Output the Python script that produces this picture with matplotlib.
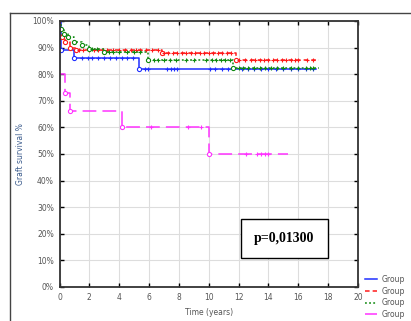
import numpy as np
import matplotlib.pyplot as plt
from matplotlib.lines import Line2D
from matplotlib.patches import Rectangle

# Kaplan-Meier steps: event times and survival (%) after each event
blue_t = [0, 0.1, 1.0, 5.3]
blue_s = [100, 89, 86, 82]
blue_end = 17.2
blue_cens = [1.5, 1.9, 2.2, 2.6, 3.0, 3.4, 3.8, 4.2, 4.5, 4.9, 5.7, 5.9, 7.2, 7.5, 7.7, 7.9,
             10.1, 10.4, 10.9, 11.3, 12.2, 12.6, 13.0, 13.5, 14.0, 14.5, 15.0, 15.5, 16.0, 16.5, 17.0]

red_t = [0, 0.05, 0.2, 0.4, 0.7, 1.1, 6.9, 11.8]
red_s = [100, 97, 94, 92, 90, 89, 87.8, 85.2]
red_end = 17.4
red_cens = [1.3, 1.6, 2.0, 2.3, 2.6, 2.9, 3.2, 3.6, 4.0, 4.4, 4.8, 5.1, 5.4, 5.8, 6.2, 6.6,
            7.0, 7.3, 7.6, 7.9, 8.2, 8.5, 8.8, 9.1, 9.4, 9.7, 10.0, 10.3, 10.6, 10.9, 11.2, 11.5,
            12.0, 12.4, 12.8, 13.1, 13.4, 13.7, 14.0, 14.3, 14.6, 14.9, 15.2, 15.5, 15.8, 16.0,
            16.6, 17.0]

green_t = [0, 0.1, 0.3, 0.6, 1.0, 1.5, 2.0, 3.0, 5.9, 11.6]
green_s = [100, 97, 95, 94, 92, 91, 89.5, 88.3, 85.5, 82.2]
green_end = 17.4
green_cens = [2.2, 2.5, 3.3, 3.6, 4.0, 4.5, 5.0, 5.4, 6.3, 6.6, 7.0, 7.4, 7.8, 8.5, 9.0,
              9.8, 10.2, 10.5, 10.8, 11.1, 11.4, 12.0, 12.3, 12.6, 13.0, 13.4, 13.8, 14.2,
              14.6, 15.0, 15.5, 16.0, 16.5, 16.8, 17.0]

mag_t = [0, 0.4, 0.7, 4.2, 10.0]
mag_s = [80, 73, 66, 60, 50]
mag_end = 15.3
mag_cens = [6.1, 8.6, 9.5, 12.5, 13.2, 13.5, 13.8, 14.0]

groups = [
    (blue_t, blue_s, blue_end, blue_cens, "#1f2fff", "-", "Group"),
    (red_t, red_s, red_end, red_cens, "#ff1a1a", (0, (3, 2)), "Group"),
    (green_t, green_s, green_end, green_cens, "#0f8a0f", (0, (1.2, 1.5)), "Group"),
    (mag_t, mag_s, mag_end, mag_cens, "#ff33ff", (0, (9, 4)), "Group"),
]

fig = plt.figure(figsize=(4.11, 3.21), dpi=100)
ax = fig.add_axes([0.1448, 0.106, 0.7263, 0.8287])

handles = []
for t, s, end, cens, col, ls, lab in groups:
    xs = list(t) + [end]
    ys = list(s) + [s[-1]]
    ax.step(xs, ys, where="post", color=col, linestyle=ls, lw=1.1)
    ax.plot(t[1:], s[1:], "o", ms=3, mfc="white", mec=col, mew=0.8, ls="none")
    idx = np.searchsorted(t, cens, side="right") - 1
    ax.plot(cens, np.array(s)[idx], "+", ms=3.5, color=col, mew=0.8, ls="none")
    handles.append(Line2D([], [], color=col, linestyle=ls, lw=1.1, label=lab))

ax.set_xlim(0, 20)
ax.set_ylim(0, 100)
ax.set_xticks(np.arange(0, 21, 2))
ax.set_yticks(np.arange(0, 101, 10))
ax.set_yticklabels([f"{v}%" for v in range(0, 101, 10)])
ax.tick_params(direction="in", top=True, right=True, length=3, width=1,
               labelsize=5.5, labelcolor="#555555", pad=4)
ax.tick_params(axis="x", labeltop=False)
ax.tick_params(axis="y", labelright=False)
ax.grid(color="#dddddd", lw=0.8)
ax.set_axisbelow(True)
for sp in ax.spines.values():
    sp.set_linewidth(1.3)
    sp.set_color("#333333")

ax.set_xlabel("Time (years)", fontsize=5.5, color="#555555", labelpad=5)
ax.set_ylabel("Graft survival %", fontsize=5.5, color="#3b5b8c", labelpad=5)

# p-value box
ax.add_patch(Rectangle((12.16, 10.9), 5.82, 14.7, fill=True, facecolor="white",
                       edgecolor="black", lw=1.0, zorder=5))
ax.text(15.07, 18.2, "p=0,01300", ha="center", va="center", fontsize=10,
        family="Liberation Serif", fontweight="bold", zorder=6)

fig.legend(handles=handles, loc="upper left", bbox_to_anchor=(0.878, 0.155),
           frameon=False, fontsize=5.5, handlelength=1.6, handletextpad=0.6,
           labelspacing=0.35, borderpad=0, labelcolor="#555555")

# outer frame
fig.add_artist(Line2D([0.0243, 0.0243], [0.0, 0.9595], transform=fig.transFigure,
                      color="#444444", lw=1.0))
fig.add_artist(Line2D([0.0243, 1.0], [0.9595, 0.9595], transform=fig.transFigure,
                      color="#444444", lw=1.0))

fig.savefig("out.png", dpi=100)
